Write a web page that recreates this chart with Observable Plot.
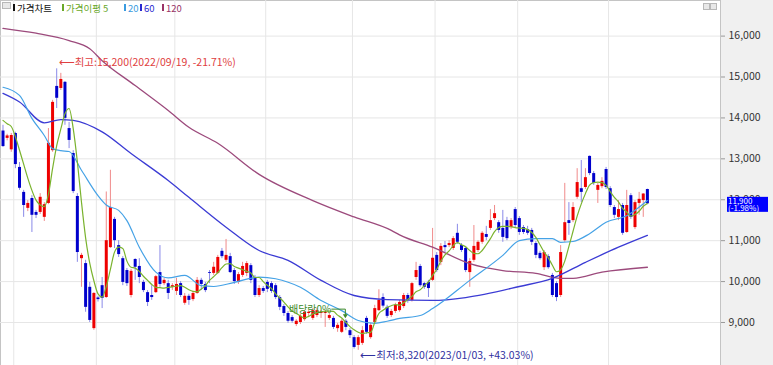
<!DOCTYPE html>
<html><head><meta charset="utf-8">
<script src="https://cdn.jsdelivr.net/npm/d3@7"></script>
<script src="https://cdn.jsdelivr.net/npm/@observablehq/plot@0.6"></script>
<style>
body{margin:0;background:#f0f0f0;}
#wrap{position:relative;width:773px;height:365px;overflow:hidden;background:#f0f0f0;font-family:'Noto Sans CJK KR',sans-serif;}
#wrap svg{position:absolute;left:0;top:0;}
.lg{position:absolute;top:2px;font-size:9.5px;line-height:12px;white-space:nowrap;}
.mk{position:absolute;top:4px;width:2px;height:7px;}
.ico{position:absolute;border:1px solid #b8b8b8;background:#e8e8e8;}
</style></head><body><div id="wrap"></div>
<script>
// ---- data ----
const opens = [13680,13500,13220,13620,12790,12180,11790,12030,11690,11690,11570,11910,13200,14770,14720,14870,13740,13130,12080,10560,10440,9860,8850,9600,9900,9610,10830,11520,10880,10560,10270,9660,10540,10370,9980,9730,9660,9730,10220,9950,9950,9860,9760,9950,9470,9640,9560,9710,10030,9930,10220,10200,10200,10740,10520,10610,10270,9980,10150,10200,10390,10100,9660,9830,9980,9950,9900,9610,9390,9220,9120,8950,9000,9070,9220,9100,9170,9220,9220,9100,9100,8850,8760,9030,8800,8630,8440,8490,9100,8630,9000,9290,9610,9370,9170,9270,9290,9390,9660,9540,10100,10370,9950,9980,10030,10640,10470,10880,10880,10810,11180,10880,10810,10220,10520,10760,10960,11150,11300,11540,11440,11300,11490,11320,11760,11540,11320,11270,11250,10930,10690,10340,10610,10150,9950,9660,11000,11490,11490,12060,12270,12300,13060,12640,12230,12320,12740,12270,11810,11570,11860,11200,12100,11320,11910,11980,12250];
const highs = [13820,13600,13620,13650,12910,12230,11980,12100,11740,12150,11930,13740,14430,15200,15090,14890,13890,13200,12150,10690,10520,9980,9730,9640,10100,12190,12720,11570,11000,10610,10320,10300,10560,10560,10030,9780,9900,10150,10880,10080,10030,9950,10080,10000,9710,9690,9760,10100,10080,9980,10270,10470,10640,10810,11030,10690,10320,10220,10470,10490,10440,10150,9900,9880,10030,10000,9950,9660,9440,9270,9170,9070,9200,9290,9290,9340,9340,9290,9290,9220,9150,8980,9070,9070,8850,8680,8680,8900,9150,8980,9420,9800,9700,9420,9320,9470,9540,9710,9710,9980,10470,10420,9980,10030,11300,10710,10930,10980,11000,11100,11400,10930,10860,10560,11370,11000,11220,11350,11760,11860,11490,11740,11570,11540,11810,11590,11370,11350,11300,10980,10740,10760,10660,10200,10000,10880,12400,11930,11930,12760,12960,12760,13070,12690,12400,12540,12790,12320,11860,11980,11910,12230,12150,11980,12180,12150,12260];
const lows = [13280,13440,13160,12760,12230,11570,11710,11200,11540,11640,11470,11880,13160,14230,14670,13820,13250,12150,10470,9860,9250,9000,8810,9500,9340,9590,10810,10810,10590,9900,9880,9600,10030,9950,9730,9390,9540,9710,9860,9900,9560,9780,9660,9610,9420,9420,9510,9690,9780,9730,9950,10150,10170,10560,10470,10200,9930,9930,10100,10120,9950,9610,9610,9710,9730,9710,9560,9290,9150,8980,8980,8900,8950,9030,9150,9050,9120,9100,8880,9050,8830,8760,8730,8800,8610,8350,8320,8440,8710,8590,8980,9270,9350,9100,9120,9220,9250,9340,9470,9500,10030,9860,9810,9610,10000,10220,10390,10710,10830,10760,10910,10710,10220,9860,10470,10710,10910,11000,11250,11490,11180,10960,11000,11270,11320,11130,11150,11130,10880,10560,10520,10270,10300,9610,9510,9610,10960,11130,11440,12010,11930,12250,12590,12350,11910,12270,12250,11810,11540,11490,11130,11180,11520,11270,11620,11570,11880];
const closes = [13300,13560,13570,12860,12280,11860,11910,11620,11620,12060,11880,13380,14380,14480,14940,13990,13450,12200,10710,10640,9370,9050,9710,9560,9590,11000,11810,11000,10660,9980,9950,10250,10350,10100,9780,9490,9610,10120,9930,10030,9710,9900,9930,9660,9640,9540,9710,10030,9930,9780,10200,10350,10590,10610,10640,10220,10000,10170,10370,10440,10030,9660,9830,9760,9810,9760,9610,9370,9220,9030,9030,9030,9150,9250,9250,9290,9290,9250,9250,9170,8880,8930,9030,8880,8680,8390,8630,8800,8760,8930,9340,9540,9400,9150,9270,9420,9490,9660,9540,9950,10270,9900,9860,9830,10570,10270,10860,10830,10930,11050,10960,10760,10270,10490,10860,10960,11180,11080,11490,11660,11250,11080,11050,11490,11370,11200,11200,11180,10960,10640,10560,10710,10340,9660,9610,10710,11440,11420,11810,12420,12180,12540,12640,12400,12350,12450,12300,11860,11620,11760,11180,11860,11570,11930,12010,12140,11900];

const ma5 = [13940,13860,13790,13540,13210,12870,12530,12230,11990,11870,11830,12130,12760,13320,13730,14100,14230,13740,12930,11940,11070,10450,10020,9700,9620,9880,10300,10720,10840,10810,10500,10350,10330,10250,10130,10030,9930,9860,9850,9840,9860,9870,9890,9900,9860,9800,9760,9750,9820,9900,10030,10120,10220,10340,10430,10440,10370,10330,10290,10250,10210,10100,10100,10000,9910,9830,9700,9600,9500,9380,9280,9220,9160,9110,9150,9210,9240,9260,9280,9280,9270,9180,9110,9000,8900,8820,8760,8730,8750,8760,9000,9220,9300,9370,9410,9440,9420,9480,9560,9640,9750,9800,9900,9990,10150,10300,10500,10650,10750,10880,10950,10900,10850,10760,10690,10680,10760,10900,11050,11220,11320,11350,11350,11340,11320,11310,11300,11270,11200,11080,10900,10720,10580,10400,10240,10290,10500,10860,11230,11600,11900,12150,12360,12420,12430,12420,12350,12200,12060,11950,11790,11700,11600,11640,11720,11840,11910];
const ma20Idx = [0,4,7,10,12,14,16,19,23,25,28,30,33,37,40,44,48,51,56,62,66,72,77,82,86,90,93,96,101,104,113,121,125,129,133,135,138,142,146,151,156];
const ma20Val = [14750,14550,13990,13570,13250,13200,13180,12720,12100,11870,11740,11490,10840,10230,10090,10150,9900,9880,9980,10110,10070,9860,9540,9290,9050,8980,9030,9100,9170,9340,10030,10640,11000,11050,11050,10960,10980,11170,11450,11610,11980];
const ma60Idx = [0,4,10,14,17,24,31,40,45,54,62,69,77,85,93,104,112,125,133,141,149,156];
const ma60Val = [14600,14390,13880,13960,13940,13660,13130,12470,12060,11330,10760,10520,10030,9660,9560,9540,9610,9880,10080,10470,10840,11130];
const ma120Idx = [0,8,16,21,24,32,40,45,52,62,75,85,94,96,104,113,121,129,135,138,145,156];
const ma120Val = [16190,16070,15890,15690,15400,14790,14180,13770,13380,12620,11980,11580,11250,11140,10840,10440,10270,10200,10080,10080,10230,10350];

const monthStartIdx = [3,23,42,64,85,105,125,147];
const yTicks = [9000,10000,11000,12000,13000,14000,15000,16000];
const extremeDates = ["2022/09/19","2023/01/03"];   // date of high, date of low
const dividendIdx = 83;
const dividendLabel = "배당락0%";
const legendLabels = ["가격차트","가격이평 5","20","60","120"];

// ---- styles ----
const C_UP="#ee0000", C_DN="#0000cc", W_UP="#f08a8a", W_DN="#8a8ae8";
const C5="#7ab32e", C20="#45a2e6", C60="#3b3bd4", C120="#9c4a7c";

const candles = opens.map((o,i)=>({i,o,h:highs[i],l:lows[i],c:closes[i]}));
const mk = (idx,val)=>idx.map((i,k)=>({i,v:val[k]}));
const ma5d = ma5.map((v,i)=>({i,v}));

const last = candles[candles.length-1];
const prev = candles[candles.length-2];
const iMax = d3.maxIndex(highs), iMin = d3.minIndex(lows);
const fmt = d3.format(",");
const pct = v => (v>=0?"+":"")+v.toFixed(2)+"%";
const hiLabel = `⟵최고:${fmt(highs[iMax])}(${extremeDates[0]}, ${pct((last.c/highs[iMax]-1)*100)})`;
const loLabel = `⟵최저:${fmt(lows[iMin])}(${extremeDates[1]}, ${pct((last.c/lows[iMin]-1)*100)})`;

const plot = Plot.plot({
  width: 773, height: 365,
  marginLeft: 0, marginRight: 53, marginTop: 0, marginBottom: 0,
  x: {type:"linear", domain:[-0.605, 173.7], axis:null},
  y: {domain:[7949, 16870], axis:null},
  color: {type:"identity"},
  style: {background:"transparent", fontFamily:"'Noto Sans CJK KR', sans-serif", fontSize:"10.5px", overflow:"visible"},
  marks: [
    Plot.frame({fill:"white", stroke:"#c4c4c4"}),
    Plot.gridY(yTicks, {stroke:"#e6e6e6", strokeOpacity:1}),
    Plot.ruleX(monthStartIdx, {x: d=>d-0.4, stroke:"#e6e6e6", strokeOpacity:1}),
    Plot.axisY(yTicks, {anchor:"right", tickFormat:fmt, tickSize:4, tickPadding:4, stroke:"#999", fill:"#333", fontSize:10.5}),
    Plot.ruleX(candles, {x:"i", y1:"l", y2:"h", stroke: d=>d.c>=d.o?W_UP:W_DN, strokeWidth:1}),
    Plot.ruleX(candles, {x:"i", y1:"o", y2:"c", stroke: d=>d.c>=d.o?C_UP:C_DN, strokeWidth:3}),
    Plot.line(mk(ma120Idx,ma120Val), {x:"i", y:"v", stroke:C120, strokeWidth:1.3, curve:"monotone-x"}),
    Plot.line(mk(ma60Idx,ma60Val), {x:"i", y:"v", stroke:C60, strokeWidth:1.3, curve:"monotone-x"}),
    Plot.line(mk(ma20Idx,ma20Val), {x:"i", y:"v", stroke:C20, strokeWidth:1.2, curve:"monotone-x"}),
    Plot.line(ma5d, {x:"i", y:"v", stroke:C5, strokeWidth:1.2, curve:"monotone-x"}),
    Plot.text([{i:iMax, v:highs[iMax]}], {x:"i", y:"v", text:()=>hiLabel, textAnchor:"start", dx:2, dy:-6, fill:"#e04040", fontSize:10.5}),
    Plot.text([{i:iMin, v:lows[iMin]}], {x:"i", y:"v", text:()=>loLabel, textAnchor:"start", dx:2, dy:5, fill:"#3030a0", fontSize:10.5})
  ]
});

const wrap = document.getElementById("wrap");
wrap.appendChild(plot);

// extras drawn with the plot's own scales
const sx = plot.scale("x"), sy = plot.scale("y");
const svg = d3.select(plot);
// dividend marker
{
  const x = sx.apply(dividendIdx), y = sy.apply(highs[dividendIdx]);
  const g = svg.append("g");
  g.append("path").attr("d",`M${x-14},${y-10}H${x}V${y-3}`).attr("fill","none").attr("stroke","#3d8a2a").attr("stroke-width",1);
  g.append("path").attr("d",`M${x-2.5},${y-5}L${x+2.5},${y-5}L${x},${y-1}Z`).attr("fill","#3d8a2a");
  g.append("text").attr("x",x-14).attr("y",y-6.5).attr("text-anchor","end").attr("font-size",10).attr("fill","#3d8a2a").text(dividendLabel);
}
// last price box
{
  const y = sy.apply(last.c);
  const top = y - 6.5;
  const g = svg.append("g").attr("text-anchor","start");
  g.append("rect").attr("x",727).attr("y",top).attr("width",41).attr("height",15).attr("fill","#0000ff");
  g.append("text").attr("x",728).attr("y",top+7).attr("font-size",8).attr("fill","white").text(fmt(last.c));
  g.append("text").attr("x",728).attr("y",top+14).attr("font-size",8).attr("fill","white").text("("+((last.c/prev.c-1)*100).toFixed(2)+"%)");
}

// legend + window icons
const ico = document.createElement("div"); ico.className="ico";
Object.assign(ico.style,{left:"2px",top:"2px",width:"7px",height:"5px"}); wrap.appendChild(ico);
[[703,3],[710,3]].forEach(([l,t])=>{const d=document.createElement("div");d.className="ico";Object.assign(d.style,{left:l+"px",top:t+"px",width:"5px",height:"5px"});wrap.appendChild(d);});
const lgColors = ["#111","#6aa82a","#3a9be0","#2828d0","#993366"];
const lgPos = [13,62,124,140,162];
legendLabels.forEach((t,k)=>{
  const m=document.createElement("div"); m.className="mk"; m.style.left=lgPos[k]+"px"; m.style.background=lgColors[k]; wrap.appendChild(m);
  const s=document.createElement("div"); s.className="lg"; s.style.left=(lgPos[k]+4)+"px"; s.style.color=lgColors[k]; s.textContent=t; wrap.appendChild(s);
});
</script></body></html>
